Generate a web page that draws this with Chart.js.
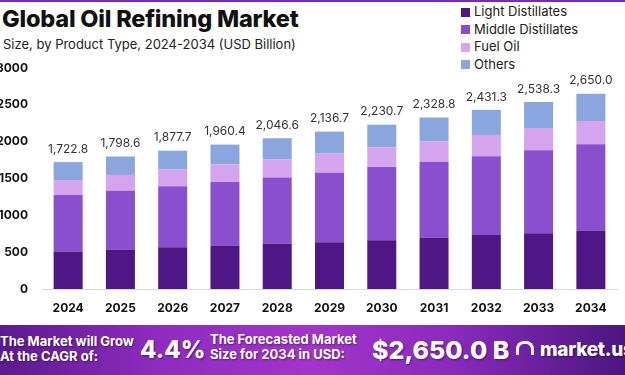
<!DOCTYPE html>
<html>
<head>
<meta charset="utf-8">
<script src="https://cdn.jsdelivr.net/npm/chart.js@4/dist/chart.umd.min.js"></script>
<style>
  html, body { margin: 0; padding: 0; background: #fff; }
  body { width: 625px; height: 375px; position: relative; overflow: hidden; font-family: Inter, "Noto Sans", sans-serif; }
  .topline { position: absolute; left: 0; top: 0; width: 625px; height: 2px; background: #7b2bb3; }
  h1 { position: absolute; left: 2px; top: 4px; margin: 0; font-size: 23.5px; font-weight: 800; color: #111; letter-spacing: -0.2px; }
  .sub { position: absolute; left: 3px; top: 36px; font-size: 13px; color: #222; }
  #legend { position: absolute; left: 461px; top: 3px; }
  #legend div { height: 17.6px; line-height: 17.6px; font-size: 13px; color: #222; white-space: nowrap; }
  #legend span { display: inline-block; width: 9px; height: 9px; margin-right: 4px; vertical-align: -0.5px; }
  #wrap { position: absolute; left: 0; top: 0; width: 625px; height: 325px; }
  .banner { position: absolute; left: 0; top: 325px; width: 625px; height: 50px;
    background: linear-gradient(90deg, #5b1a8f 0%, #8e2cbf 25%, #a334cc 50%, #8a2bbd 72%, #4c1680 100%);
    color: #fff; font-weight: 700; text-shadow: 1px 1px 2px rgba(0,0,0,0.45); }
  .banner div { position: absolute; white-space: nowrap; }
  .small { font-size: 13px; line-height: 14.5px; }
  .big { font-size: 25px; line-height: 30px; font-weight: 800; }
  .logo { left: 540px; top: 13px; font-size: 19px; font-weight: 800; letter-spacing: -0.3px; }
  .icon { left: 516px; top: 16px; width: 18px; height: 14px; border: 3px solid #fff; border-bottom: none; border-radius: 8px 8px 0 0; box-sizing: border-box; }
</style>
</head>
<body>
<div class="topline"></div>
<h1>Global Oil Refining Market</h1>
<div class="sub">Size, by Product Type, 2024-2034 (USD Billion)</div>
<div id="legend"></div>
<div id="wrap"><canvas id="chart" width="625" height="325"></canvas></div>
<div class="banner">
  <div class="small" style="left:0; top:9px;">The Market will Grow<br>At the CAGR of:</div>
  <div class="big" style="left:140px; top:10px; font-size:24px;">4.4%</div>
  <div class="small" style="left:210px; top:7px;">The Forecasted Market<br>Size for 2034 in USD:</div>
  <div class="big" style="left:372px; top:10px;">$2,650.0 B</div>
  <div class="icon"></div>
  <div class="logo">market.us</div>
</div>
<script>
const years = ['2024', '2025', '2026', '2027', '2028', '2029', '2030', '2031', '2032', '2033', '2034'];
const totals = [1722.8, 1798.6, 1877.7, 1960.4, 2046.6, 2136.7, 2230.7, 2328.8, 2431.3, 2538.3, 2650.0];
const lightDistillates = [510, 535, 567, 590, 615, 635, 662, 695, 732, 758, 795];
const middleDistillates = [765, 798, 829, 863, 898, 942, 995, 1033, 1071, 1125, 1170];
const fuelOil = [205, 215, 225, 238, 246, 260, 266, 279, 288, 302, 315];
const others = [242.8, 250.6, 256.7, 269.4, 287.6, 299.7, 307.7, 321.8, 340.3, 353.3, 370.0];
const seriesNames = ['Light Distillates', 'Middle Distillates', 'Fuel Oil', 'Others'];
const colors = ['#4f1686', '#8a4fce', '#d4a5ee', '#8ba6de'];

const legend = document.getElementById('legend');
seriesNames.forEach((name, i) => {
  const row = document.createElement('div');
  row.innerHTML = '<span style="background:' + colors[i] + '"></span>' + name;
  legend.appendChild(row);
});

const totalLabels = {
  id: 'totalLabels',
  afterDatasetsDraw(chart) {
    const ctx = chart.ctx;
    const y = chart.scales.y;
    const x = chart.scales.x;
    ctx.save();
    ctx.font = '12px Inter, "Noto Sans", sans-serif';
    ctx.fillStyle = '#333';
    ctx.textAlign = 'center';
    ctx.textBaseline = 'bottom';
    totals.forEach((t, i) => {
      ctx.fillText(t.toLocaleString('en-US', { minimumFractionDigits: 1 }), x.getPixelForValue(i), y.getPixelForValue(t) - 7);
    });
    ctx.restore();
  }
};

const data = [lightDistillates, middleDistillates, fuelOil, others];
new Chart(document.getElementById('chart'), {
  type: 'bar',
  data: {
    labels: years,
    datasets: data.map((d, i) => ({
      label: seriesNames[i],
      data: d,
      backgroundColor: colors[i],
      borderWidth: 0,
      categoryPercentage: 1,
      barPercentage: 0.555
    }))
  },
  options: {
    responsive: false,
    animation: false,
    layout: { padding: { top: 68, right: 8, left: 0, bottom: 0 } },
    plugins: { legend: { display: false }, tooltip: { enabled: false } },
    scales: {
      x: {
        stacked: true,
        grid: { display: false },
        border: { color: '#d8d8d8' },
        ticks: { color: '#111', font: { size: 12, weight: 'bold', family: 'Inter' }, padding: 4 },
        afterFit: s => { s.height = 36; }
      },
      y: {
        stacked: true,
        min: 0,
        max: 3000,
        grid: { display: false },
        border: { display: false },
        ticks: { stepSize: 500, color: '#111', font: { size: 12, weight: 'bold', family: 'Inter' }, padding: 6,
          callback: v => String(v) },
        afterFit: s => { s.width = 42; }
      }
    }
  },
  plugins: [totalLabels]
});
</script>
</body>
</html>
